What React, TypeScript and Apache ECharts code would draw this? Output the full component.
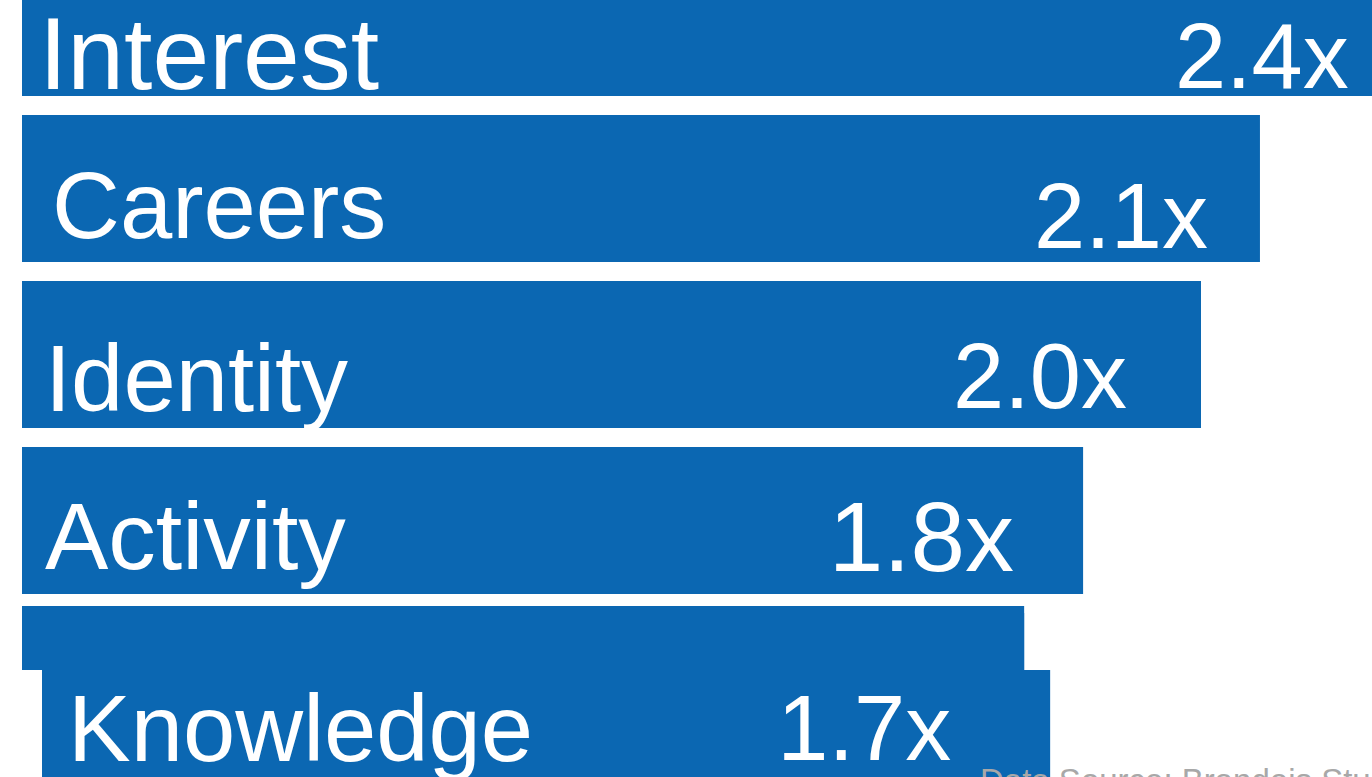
import React, { useEffect, useRef } from "react";
import * as echarts from "echarts";

// ---- data ----
const categories = ["Interest", "Careers", "Identity", "Activity", "Knowledge"];
const values = [2.4, 2.1, 2.0, 1.8, 1.7];
const valueLabels = ["2.4x", "2.1x", "2.0x", "1.8x", "1.7x"];
const sourceText = "Data Source: Brandeis Study";

// ---- layout / style (not data) ----
const BLUE = "#0B67B2";
const BAR_H = 147;
const SHIFT_Y = 61; // the chart canvas starts above the visible page
const nameDx = [17, 30, 23, 23, 46];
const nameDy = [31.5, 16.5, 24, 15.5, 42];
const nameSize = [102, 94, 94, 95, 94];
const valueDx = [-88, -52, -74, -69, -73];
const valueDy = [33, 27, 21, 16.5, 41];
const valueSize = [92, 92, 92, 98, 92];
const FONT = "'Liberation Sans', Arial, sans-serif";

export default function App() {
  const ref = useRef<HTMLDivElement>(null);

  useEffect(() => {
    document.body.style.margin = "0";
    document.body.style.overflow = "hidden";
    if (!ref.current) return;
    const chart = echarts.init(ref.current, undefined, { renderer: "svg" });

    const half = BAR_H / 2;
    const nameData = values.map((v, i) => ({
      value: v,
      label: {
        show: true,
        position: [nameDx[i], half + nameDy[i]],
        align: "left",
        verticalAlign: "middle",
        formatter: categories[i],
        color: "#ffffff",
        fontSize: nameSize[i],
        fontFamily: FONT,
      },
    }));
    const valueData = values.map((v, i) => ({
      value: v,
      label: {
        show: true,
        position: ["100%", half + valueDy[i]],
        offset: [valueDx[i], 0],
        align: "right",
        verticalAlign: "middle",
        formatter: valueLabels[i],
        color: "#ffffff",
        fontSize: valueSize[i],
        fontFamily: FONT,
      },
    }));

    const lastIdx = categories.length - 1;

    chart.setOption({
      animation: false,
      backgroundColor: "#ffffff",
      grid: { left: 22, right: 0.25, top: 0.5, bottom: 7.5, containLabel: false },
      xAxis: { type: "value", min: 0, max: 2.5, show: false },
      yAxis: { type: "category", data: categories, inverse: true, show: false },
      series: [
        {
          type: "bar",
          data: values,
          barWidth: BAR_H,
          barGap: "-100%",
          itemStyle: { color: BLUE },
          silent: true,
          z: 2,
        },
        {
          type: "custom",
          z: 3,
          silent: true,
          data: [[values[lastIdx], lastIdx]],
          encode: { x: 0, y: 1 },
          renderItem: (params: any, api: any) => {
            const v = api.value(0);
            const c = api.value(1);
            const p0 = api.coord([0, c]);
            const p1 = api.coord([v, c]);
            const upperTop = p0[1] - 80.5;
            const top = p0[1] - 16.5;
            const bottom = p0[1] + 100;
            return {
              type: "group",
              children: [
                {
                  type: "rect",
                  shape: { x: p0[0], y: upperTop, width: p1[0] - p0[0], height: top - upperTop },
                  style: { fill: BLUE },
                },
                {
                  type: "rect",
                  shape: { x: p0[0], y: top, width: 20, height: bottom - top },
                  style: { fill: "#ffffff" },
                },
                {
                  type: "rect",
                  shape: { x: p0[0] + 20, y: top, width: p1[0] + 26 - (p0[0] + 20), height: bottom - top },
                  style: { fill: BLUE },
                },
              ],
            };
          },
        },
        {
          type: "bar",
          data: nameData,
          barWidth: BAR_H,
          barGap: "-100%",
          itemStyle: { color: "rgba(0,0,0,0)" },
          silent: true,
          z: 4,
        },
        {
          type: "bar",
          data: valueData,
          barWidth: BAR_H,
          barGap: "-100%",
          itemStyle: { color: "rgba(0,0,0,0)" },
          silent: true,
          z: 4,
        },
      ],
      graphic: [
        {
          type: "text",
          z: 100,
          left: 980,
          top: 764 + SHIFT_Y,
          silent: true,
          style: {
            text: sourceText,
            fill: "#a8a8a8",
            fontSize: 33,
            fontFamily: FONT,
          },
        },
      ],
    });

    return () => chart.dispose();
  }, []);

  return (
    <div style={{ position: "relative", width: 1372, height: 777, overflow: "hidden" }}>
      <div
        ref={ref}
        style={{ position: "absolute", left: 0, top: -SHIFT_Y, width: 1496, height: 838 }}
      />
    </div>
  );
}
